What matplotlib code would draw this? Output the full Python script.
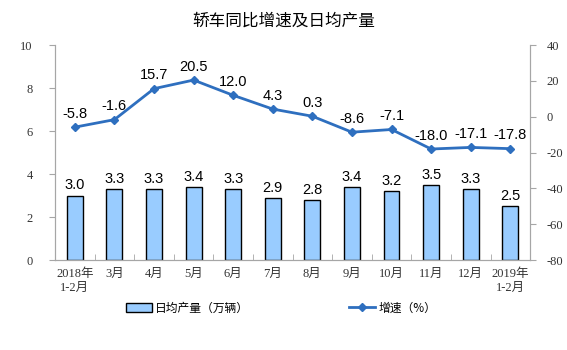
import matplotlib
matplotlib.use("Agg")
import matplotlib.pyplot as plt
import numpy as np

plt.rcParams['font.family'] = ['Liberation Serif', 'Noto Sans CJK SC']
plt.rcParams['axes.unicode_minus'] = False

months = ['2018年\n1-2月', '3月', '4月', '5月', '6月', '7月', '8月',
          '9月', '10月', '11月', '12月', '2019年\n1-2月']
output = [3.0, 3.3, 3.3, 3.4, 3.3, 2.9, 2.8, 3.4, 3.2, 3.5, 3.3, 2.5]
growth = [-5.8, -1.6, 15.7, 20.5, 12.0, 4.3, 0.3, -8.6, -7.1, -18.0, -17.1, -17.8]

x = np.arange(len(months))
grey = '#A6A6A6'
lab_font = ['Liberation Sans', 'Noto Sans CJK SC']

fig = plt.figure(figsize=(5.67, 3.5), dpi=100)
ax = fig.add_axes([0.097, 0.257, 0.838, 0.614])
ax2 = ax.twinx()

bars = ax.bar(x, output, width=0.4, color='#99CCFF', edgecolor='black', linewidth=1.0,
              label='日均产量（万辆）', zorder=2)
for xi, v in zip(x, output):
    ax.text(xi, v + 0.15, '%.1f' % v, ha='center', va='bottom', fontsize=10.5,
            family=lab_font)

line, = ax2.plot(x, growth, color='#2E6FBF', lw=2, marker='D', ms=4.5,
                 label='增速（%）', zorder=3)
for xi, v in zip(x, growth):
    ax2.text(xi, v + 3.5, '%.1f' % v, ha='center', va='bottom', fontsize=10.5,
             family=lab_font)

ax.set_xlim(-0.5, len(months) - 0.5)
ax.set_ylim(0, 10)
ax.set_yticks(range(0, 11, 2))
ax2.set_ylim(-80, 40)
ax2.set_yticks(range(-80, 41, 20))

ax.set_xticks(x)
ax.set_xticklabels(months, fontsize=9, color='#333333')
ax.set_xticks(np.arange(-0.5, len(months), 1), minor=True)
ax.tick_params(axis='x', which='major', length=0, pad=6)
ax.tick_params(axis='x', which='minor', length=4, color=grey, direction='in')
ax.tick_params(axis='y', length=4, color=grey, labelsize=9, pad=12, colors='#333333')
ax2.tick_params(axis='y', length=4, color=grey, labelsize=9, pad=8, colors='#333333')
for a in (ax, ax2):
    for s in a.spines.values():
        s.set_color(grey)
    a.spines['top'].set_visible(False)

fig.text(0.5, 0.94, '轿车同比增速及日均产量', ha='center', va='center', fontsize=12,
         family=['Noto Sans CJK SC'])

fig.legend([bars, line], ['日均产量（万辆）', '增速（%）'], loc='center',
           bbox_to_anchor=(0.496, 0.12), ncol=2, frameon=False, columnspacing=8.5,
           handlelength=2.2, handletextpad=0.3,
           prop={'family': ['Noto Sans CJK SC'], 'size': 8.5})

fig.savefig('out.png', dpi=100)
